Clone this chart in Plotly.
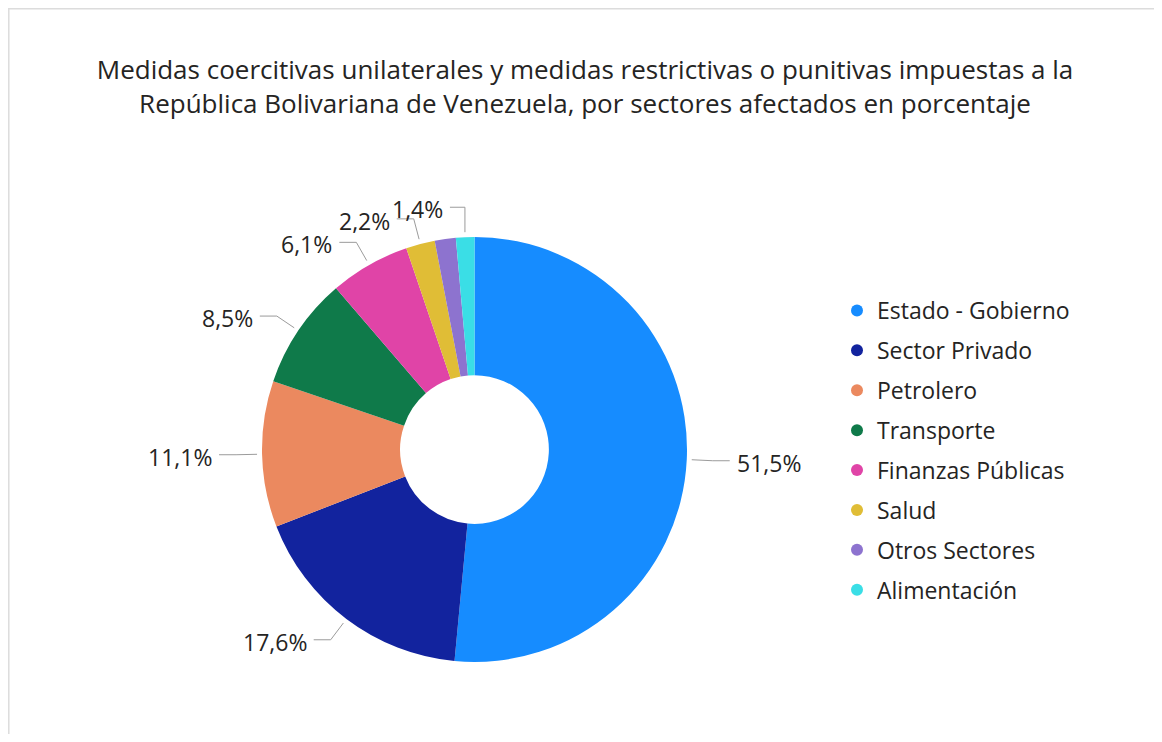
import math
import plotly.graph_objects as go

# data
sectores = ['Estado - Gobierno', 'Sector Privado', 'Petrolero', 'Transporte',
            'Finanzas Públicas', 'Salud', 'Otros Sectores', 'Alimentación']
porcentajes = [51.5, 17.6, 11.1, 8.5, 6.1, 2.2, 1.6, 1.4]
etiquetas = ['51,5%', '17,6%', '11,1%', '8,5%', '6,1%', '2,2%', None, '1,4%']

colores = ['#168CFF', '#12239E', '#EB895F', '#0F7A4A',
           '#E044A7', '#E0BD36', '#8D73CF', '#3ADEE6']

# the page body has an 8px margin, so the figure starts at (8, 8)
OFF = 8
W, H = 1162 - 2 * OFF, 742 - 2 * OFF
FONT = 'Open Sans'
TXT = '#252423'
LINE = '#9b9b9b'

# pie box in screen pixels
CX, CY, R = 474.5, 449.5, 212.5


def px(x):
    return (x - OFF) / W


def py(y):
    return 1 - (y - OFF) / H


fig = go.Figure()

fig.add_trace(go.Pie(
    labels=sectores, values=porcentajes, sort=False, direction='clockwise',
    rotation=0, hole=0.35, textinfo='none', hoverinfo='label+percent',
    marker=dict(colors=colores, line=dict(width=0)),
    domain=dict(x=[px(CX - R), px(CX + R)], y=[py(CY + R), py(CY - R)]),
    showlegend=False,
))

# legend entries with round markers
for s, c in zip(sectores, colores):
    fig.add_trace(go.Scatter(
        x=[None], y=[None], mode='markers', name=s, legendgroup=s,
        marker=dict(color=c, size=12, symbol='circle'),
    ))

# outside labels with leader lines
shapes = []
annotations = []
total = sum(porcentajes)
acc = 0
for v, lab in zip(porcentajes, etiquetas):
    mid = (acc + v / 2) / total * 2 * math.pi
    acc += v
    if lab is None:
        continue
    dx, dy = math.sin(mid), -math.cos(mid)
    x0, y0 = CX + dx * (R + 5), CY + dy * (R + 5)
    x1, y1 = CX + dx * (R + 26), CY + dy * (R + 26)
    seg = 17
    if abs(dx) < 0.1:
        # near the top: straight up, a little higher
        x1, y1 = x0, CY + dy * (R + 30)
        seg = 15
    side = 1 if dx >= 0 else -1
    x2 = x1 + side * seg
    shapes.append(dict(type='path', xref='paper', yref='paper',
                       path='M {} {} L {} {} L {} {}'.format(
                           px(x0), py(y0), px(x1), py(y1), px(x2), py(y1)),
                       line=dict(color=LINE, width=1)))
    annotations.append(dict(
        x=px(x2 + side * 5), y=py(y1 + 2), xref='paper', yref='paper',
        text=lab, showarrow=False, xanchor='left' if side > 0 else 'right',
        yanchor='middle', font=dict(family=FONT, size=23, color=TXT)))

# frame
shapes.append(dict(type='line', xref='paper', yref='paper',
                   x0=px(8), x1=px(1158), y0=py(8.8), y1=py(8.8),
                   line=dict(color='#dcdcdc', width=1.5)))
shapes.append(dict(type='line', xref='paper', yref='paper',
                   x0=px(8.8), x1=px(8.8), y0=py(8), y1=0,
                   line=dict(color='#dcdcdc', width=1.5)))

fig.update_layout(
    width=W, height=H,
    margin=dict(l=0, r=0, t=0, b=0),
    paper_bgcolor='white', plot_bgcolor='white',
    title=dict(
        text='Medidas coercitivas unilaterales y medidas restrictivas o punitivas impuestas a la<br>'
             'República Bolivariana de Venezuela, por sectores afectados en porcentaje',
        x=(585 - OFF) / W, xanchor='center', y=py(79), yanchor='middle',
        font=dict(family=FONT, size=26, color=TXT)),
    xaxis=dict(visible=False), yaxis=dict(visible=False),
    legend=dict(x=px(837), y=py(450.5), xanchor='left', yanchor='middle',
                font=dict(family=FONT, size=23, color=TXT),
                tracegroupgap=7, bgcolor='rgba(0,0,0,0)'),
    shapes=shapes, annotations=annotations,
)

fig.write_html('out.html')
